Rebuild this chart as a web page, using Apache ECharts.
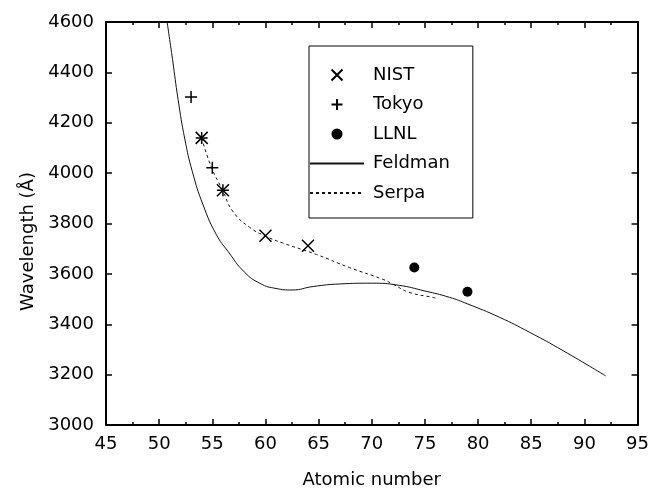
<!DOCTYPE html>
<html>
<head>
<meta charset="utf-8">
<script src="https://cdn.jsdelivr.net/npm/echarts@6/dist/echarts.min.js"></script>
<style>
  html, body { margin: 0; padding: 0; background: #fff; }
  #chart { width: 652px; height: 494px; }
</style>
</head>
<body>
<div id="chart"></div>
<script>
// Measured wavelengths by atomic number
const nistZ = [54, 56, 60, 64];
const nistW = [4140, 3932, 3751, 3712];

const tokyoZ = [53, 54, 55, 56];
const tokyoW = [4302, 4139, 4021, 3932];

const llnlZ = [74, 79];
const llnlW = [3625, 3529];

// Calculated curves
const feldmanZ = [50.75, 51.26, 51.78, 52.41, 53.13, 54.13, 55.38, 56.5, 58, 59.5, 61, 62.5, 64.5, 67, 70, 72.5, 75, 77.3, 79, 82, 84.8, 88, 92];
const feldmanW = [4600, 4451, 4293, 4136, 4005, 3874, 3756, 3688, 3608, 3562, 3542, 3536, 3550, 3560, 3563, 3555, 3532, 3507, 3481, 3428, 3369, 3295, 3195];

const serpaZ = [54, 54.9, 56, 56.9, 58.5, 60, 61.6, 64.8, 67.9, 71, 72, 73.5, 75.7, 76];
const serpaW = [4140, 4025, 3930, 3850, 3785, 3750, 3723, 3677, 3625, 3579, 3559, 3527, 3507, 3504];

const legendNames = ['NIST', 'Tokyo', 'LLNL', 'Feldman', 'Serpa'];

const FONT = 'DejaVu Sans';
const zip = (xs, ys) => xs.map((x, i) => [x, ys[i]]);

const crossPath = 'path://M0,0L10,10M10,0L0,10';
const plusPath = 'path://M5,0L5,10M0,5L10,5';

// curve entries in the legend show only their line sample
const hiddenSymbol = { color: 'rgba(0,0,0,0)', borderColor: 'rgba(0,0,0,0)', borderWidth: 0 };

function frameAxis(extra) {
  return Object.assign({
    type: 'value',
    axisLine: { show: true, onZero: false, lineStyle: { color: '#000', width: 2 } },
    axisTick: { show: true, inside: true, length: 6, lineStyle: { color: '#000', width: 1.5 } },
    splitLine: { show: false },
    axisLabel: { show: false }
  }, extra);
}

const chart = echarts.init(document.getElementById('chart'), null, { renderer: 'canvas' });

chart.setOption({
  animation: false,
  backgroundColor: '#fff',
  grid: { left: 106, right: 13, top: 22, bottom: 65, containLabel: false },
  legend: {
    data: legendNames.map(n => (n === 'Feldman' || n === 'Serpa') ? { name: n, itemStyle: hiddenSymbol } : n),
    orient: 'vertical',
    left: 309,
    top: 46,
    padding: [20, 23, 16, 0],
    itemWidth: 54,
    itemHeight: 11,
    itemGap: 11.5,
    borderColor: '#000',
    borderWidth: 1,
    textStyle: { fontFamily: FONT, fontSize: 18, color: '#000', lineHeight: 18, padding: [0, 0, 0, 4] }
  },
  xAxis: [
    frameAxis({
      position: 'bottom', min: 45, max: 95, interval: 5,
      minorTick: { show: true, splitNumber: 2, length: 3, lineStyle: { color: '#000', width: 1.5 } },
      axisLabel: { show: true, margin: 10, fontFamily: FONT, fontSize: 18, color: '#000' },
      name: 'Atomic number', nameLocation: 'middle', nameGap: 46,
      nameTextStyle: { fontFamily: FONT, fontSize: 18, color: '#000' }
    }),
    frameAxis({
      position: 'top', min: 45, max: 95, interval: 5,
      minorTick: { show: true, splitNumber: 2, length: 3, lineStyle: { color: '#000', width: 1.5 } }
    })
  ],
  yAxis: [
    frameAxis({
      position: 'left', min: 3000, max: 4600, interval: 200,
      axisLabel: { show: true, margin: 12, fontFamily: FONT, fontSize: 18, color: '#000',
                   formatter: v => String(v) },
      name: 'Wavelength (Å)', nameLocation: 'middle', nameGap: 62,
      nameTextStyle: { fontFamily: FONT, fontSize: 18, color: '#000', padding: [0, 36, 0, 0] }
    }),
    frameAxis({ position: 'right', min: 3000, max: 4600, interval: 200 })
  ],
  series: [
    {
      name: 'Feldman', type: 'line', data: zip(feldmanZ, feldmanW),
      smooth: 0.5, symbol: 'none', z: 2,
      lineStyle: { color: '#111', width: 1 },
      itemStyle: { color: '#111' }
    },
    {
      name: 'Serpa', type: 'line', data: zip(serpaZ, serpaW),
      smooth: 0.5, symbol: 'none', z: 2,
      lineStyle: { color: '#111', width: 1, type: [3, 3] },
      itemStyle: { color: '#111' }
    },
    {
      name: 'NIST', type: 'scatter', data: zip(nistZ, nistW),
      symbol: crossPath, symbolSize: 12, z: 3,
      itemStyle: { color: 'none', borderColor: '#000', borderWidth: 1.5, opacity: 1 }
    },
    {
      name: 'Tokyo', type: 'scatter', data: zip(tokyoZ, tokyoW),
      symbol: plusPath, symbolSize: 12, z: 3,
      itemStyle: { color: 'none', borderColor: '#000', borderWidth: 1.5, opacity: 1 }
    },
    {
      name: 'LLNL', type: 'scatter', data: zip(llnlZ, llnlW),
      symbol: 'circle', symbolSize: 10, z: 3,
      itemStyle: { color: '#000', opacity: 1 }
    }
  ]
});
</script>
</body>
</html>
